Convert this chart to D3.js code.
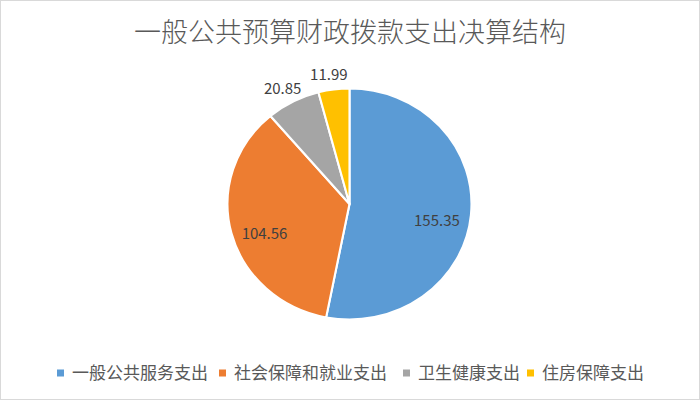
<!DOCTYPE html>
<html>
<head>
<meta charset="utf-8">
<script src="https://cdn.jsdelivr.net/npm/d3@7"></script>
<style>
  body { margin: 0; background: #fff; }
  text { font-family: "Noto Sans CJK SC", "Microsoft YaHei", sans-serif; }
</style>
</head>
<body>
<svg id="chart" width="700" height="400"></svg>
<script>
// data
const categories = ["一般公共服务支出", "社会保障和就业支出", "卫生健康支出", "住房保障支出"];
const values = [155.35, 104.56, 20.85, 11.99];
const colors = ["#5b9bd5", "#ed7d31", "#a5a5a5", "#ffc000"];
const title = "一般公共预算财政拨款支出决算结构";

const svg = d3.select("#chart");
const width = 700, height = 400;

// outer border
svg.append("rect")
    .attr("x", 0.5).attr("y", 0.5)
    .attr("width", width - 1).attr("height", height - 1)
    .attr("fill", "#fff")
    .attr("stroke", "#d9d9d9");

svg.append("text")
    .attr("x", width / 2)
    .attr("y", 42)
    .attr("text-anchor", "middle")
    .attr("font-size", 27)
    .attr("font-weight", 300)
    .attr("fill", "#595959")
    .text(title);

// the picture is a bit wider than tall, so the pie is stretched in x
const cx = 349.5, cy = 204, radius = 115.5, sx = 122 / 115.5;

const pie = d3.pie().sort(null).value(d => d);
const arcs = pie(values);
const arc = d3.arc().innerRadius(0).outerRadius(radius);

const g = svg.append("g").attr("transform", `translate(${cx},${cy})`);

g.append("g")
    .attr("transform", `scale(${sx},1)`)
    .selectAll(".slice")
    .data(arcs)
    .enter()
    .append("path")
    .attr("class", "slice")
    .attr("d", arc)
    .attr("fill", (d, i) => colors[i])
    .attr("stroke", "#fff")
    .attr("stroke-width", 2)
    .attr("stroke-linejoin", "round");

// labels: big slices inside (a bit below centroid), small ones outside
const inner = d3.arc().innerRadius(radius * 0.72).outerRadius(radius * 0.72);
const outer = d3.arc().innerRadius(radius * 1.13).outerRadius(radius * 1.13);

g.selectAll(".label")
    .data(arcs)
    .enter()
    .append("text")
    .attr("class", "label")
    .attr("transform", d => {
        const small = (d.endAngle - d.startAngle) < 0.5;
        const p = (small ? outer : inner).centroid(d);
        return `translate(${p[0] * sx - (small ? 3 : 0)},${p[1] + (small ? 0 : 9)})`;
    })
    .attr("text-anchor", "middle")
    .attr("dy", "0.35em")
    .attr("font-size", 15)
    .attr("fill", "#404040")
    .text(d => d.data.toFixed(2));

// legend
const legendX = [57, 219, 403, 527];
const legend = svg.append("g").attr("transform", "translate(0,373)");
const items = legend.selectAll(".legend-item")
    .data(categories)
    .enter()
    .append("g")
    .attr("class", "legend-item")
    .attr("transform", (d, i) => `translate(${legendX[i]},0)`);

items.append("rect")
    .attr("x", 0).attr("y", -3.5)
    .attr("width", 7).attr("height", 7)
    .attr("fill", (d, i) => colors[i]);

items.append("text")
    .attr("x", 15)
    .attr("dy", "0.35em")
    .attr("font-size", 17)
    .attr("fill", "#595959")
    .text(d => d);
</script>
</body>
</html>
